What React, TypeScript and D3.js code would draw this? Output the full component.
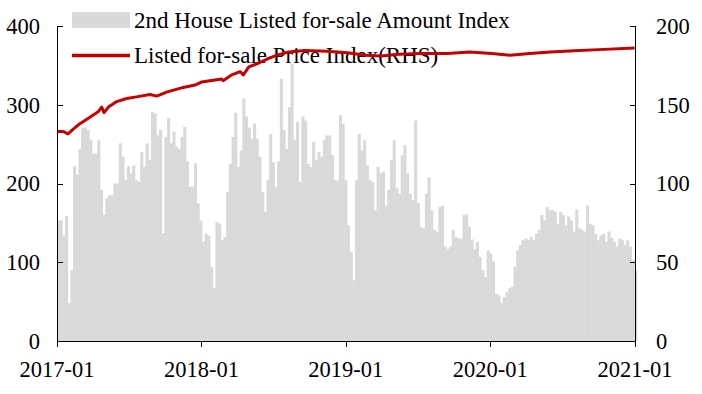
import * as d3 from "d3";
import { useEffect, useRef } from "react";

// weekly listed-for-sale amount index (LHS)
const amountIndex = [
  153, 153, 134, 159, 48, 90, 222, 211, 244, 271, 271, 268, 255, 238, 238, 255, 192, 160, 181, 185,
  185, 200, 200, 251, 234, 204, 222, 213, 223, 204,
  202, 240, 221, 251, 230, 291, 289, 261, 268, 137, 259, 283, 251, 266, 247, 244, 259, 272, 228, 196,
  196, 226, 175, 153, 126, 136, 134, 94, 67,
  151, 149, 128, 132, 189, 225, 259, 290, 221, 242, 308, 285, 271, 257, 276, 257, 234, 189, 164, 204,
  263, 227, 196, 228, 333, 268, 244, 297, 352, 255, 278,
  202, 285, 280, 225, 221, 253, 230, 240, 234, 255, 261, 261, 236, 204, 204, 287, 276, 204, 147, 113,
  77, 204, 263, 242, 255, 223, 204, 202, 166, 221, 213, 215,
  172, 192, 230, 255, 194, 187, 236, 249, 213, 187, 179, 280, 175, 145, 143, 187, 208, 166, 141, 139,
  170, 172, 120, 117, 120, 141, 132, 130, 130, 160, 161,
  145, 129, 117, 126, 107, 90, 81, 115, 111, 101, 60, 58, 48, 56, 62, 67, 69, 94, 115, 122,
  128, 130, 128, 132, 128, 136, 141, 160, 153, 170, 166,
  166, 164, 149, 164, 160, 147, 158, 153, 139, 167, 143, 141, 139, 172, 149, 147, 136, 128, 134, 136,
  126, 139, 131, 126, 120, 130, 128, 122, 128, 120, 103, 90,
];

// listed-for-sale price index (RHS)
const priceDates = [
  "2017-01-01", "2017-01-17", "2017-01-29", "2017-02-11", "2017-02-28", "2017-03-25", "2017-04-15",
  "2017-04-24", "2017-04-30", "2017-05-11", "2017-06-01", "2017-06-26", "2017-07-21", "2017-08-24",
  "2017-09-10", "2017-10-05", "2017-11-16", "2017-12-16", "2018-01-02", "2018-01-31", "2018-02-21",
  "2018-02-25", "2018-03-19", "2018-04-09", "2018-04-17", "2018-05-01", "2018-05-26", "2018-06-20",
  "2018-07-11", "2018-08-09", "2018-09-20", "2018-11-15", "2019-01-05", "2019-02-20", "2019-04-01",
  "2019-05-15", "2019-07-10", "2019-09-15", "2019-11-10", "2020-01-05", "2020-02-20", "2020-04-10",
  "2020-06-01", "2020-08-01", "2020-10-01", "2020-12-31",
];
const priceIndex = [
  133, 133, 131.5, 134.5, 138, 142, 145.5,
  148.5, 145, 148.5, 152, 154, 155, 156.5,
  155.5, 158, 161, 162.5, 164.5, 165.5, 166.3,
  165.3, 169, 171, 169, 174, 176.5, 179.5,
  181.5, 183.5, 184.5, 184, 183, 181.5, 181,
  182, 182.5, 182.5, 183.5, 182.5, 181.5, 182.5,
  183.5, 184.3, 185, 186,
];

const leftTicks = [0, 100, 200, 300, 400];
const rightTicks = [0, 50, 100, 150, 200];
const xTickLabels = ["2017-01", "2018-01", "2019-01", "2020-01", "2021-01"];
const legendLabels = ["2nd House Listed for-sale Amount Index", "Listed for-sale Price Index(RHS)"];

const W = 702;
const H = 394;
const FONT = "'Liberation Serif', 'Times New Roman', serif";

export default function App() {
  const ref = useRef<SVGSVGElement>(null);

  useEffect(() => {
    const svg = d3.select(ref.current);
    svg.selectAll("*").remove();

    const left = 57, right = 635, top = 26, bottom = 341;
    const parse = d3.timeParse("%Y-%m-%d");

    const x = d3.scaleTime()
      .domain([new Date(2017, 0, 1), new Date(2021, 0, 1)])
      .range([left, right]);
    const xb = d3.scaleBand<number>()
      .domain(d3.range(amountIndex.length))
      .range([left, right + 2])
      .paddingInner(0);
    const yL = d3.scaleLinear().domain([0, 400]).range([bottom, top]);
    const yR = d3.scaleLinear().domain([0, 200]).range([bottom, top]);

    // bars
    svg.append("g")
      .selectAll("rect")
      .data(amountIndex)
      .enter()
      .append("rect")
      .attr("x", (_, i) => xb(i)!)
      .attr("width", xb.bandwidth() + 0.4)
      .attr("y", (d) => yL(d))
      .attr("height", (d) => bottom - yL(d))
      .attr("fill", "#d9d9d9");

    // legend
    const lg = svg.append("g").style("font-family", FONT).style("font-size", "23px");
    lg.append("rect").attr("x", 72).attr("y", 12).attr("width", 58).attr("height", 16).attr("fill", "#d9d9d9");
    lg.append("line").attr("x1", 72).attr("x2", 130).attr("y1", 55.5).attr("y2", 55.5)
      .attr("stroke", "#c00000").attr("stroke-width", 3.5);
    legendLabels.forEach((t, i) => {
      lg.append("text").attr("x", 134).attr("y", 28 + i * 35).attr("fill", "#000").text(t);
    });

    // price line
    const pts = priceDates.map((d, i) => [parse(d)!, priceIndex[i]] as [Date, number]);
    svg.append("path")
      .datum(pts)
      .attr("fill", "none")
      .attr("stroke", "#c00000")
      .attr("stroke-width", 3)
      .attr("stroke-linejoin", "round")
      .attr("d", d3.line<[Date, number]>().x((d) => x(d[0])).y((d) => yR(d[1])));

    // axes
    const ax = svg.append("g").attr("stroke", "#000").attr("stroke-width", 1);
    ax.append("line").attr("x1", left + 0.5).attr("x2", left + 0.5).attr("y1", top).attr("y2", bottom);
    ax.append("line").attr("x1", right + 0.5).attr("x2", right + 0.5).attr("y1", top).attr("y2", bottom);
    ax.append("line").attr("x1", left).attr("x2", right + 1).attr("y1", bottom + 0.5).attr("y2", bottom + 0.5);

    leftTicks.forEach((v) => {
      const yy = Math.round(yL(v)) + 0.5;
      ax.append("line").attr("x1", left).attr("x2", left + 6).attr("y1", yy).attr("y2", yy);
    });
    rightTicks.forEach((v) => {
      const yy = Math.round(yR(v)) + 0.5;
      ax.append("line").attr("x1", right - 5).attr("x2", right + 1).attr("y1", yy).attr("y2", yy);
    });
    xTickLabels.forEach((t) => {
      const xx = Math.round(x(d3.timeParse("%Y-%m")(t)!)) + 0.5;
      ax.append("line").attr("x1", xx).attr("x2", xx).attr("y1", bottom).attr("y2", bottom + 6);
    });

    const tg = svg.append("g").style("font-family", FONT).style("font-size", "22.5px").attr("fill", "#000");
    leftTicks.forEach((v) => {
      tg.append("text").attr("x", 40).attr("y", yL(v)).attr("dy", "0.35em")
        .attr("text-anchor", "end").text(v);
    });
    rightTicks.forEach((v) => {
      tg.append("text").attr("x", 656).attr("y", yR(v)).attr("dy", "0.35em")
        .attr("text-anchor", "start").text(v);
    });
    xTickLabels.forEach((t) => {
      tg.append("text").attr("x", x(d3.timeParse("%Y-%m")(t)!)).attr("y", 377)
        .attr("text-anchor", "middle").text(t);
    });
  }, []);

  return (
    <svg
      ref={ref}
      width={W}
      height={H}
      style={{ position: "absolute", left: 0, top: 0, display: "block", background: "#fff" }}
    />
  );
}
